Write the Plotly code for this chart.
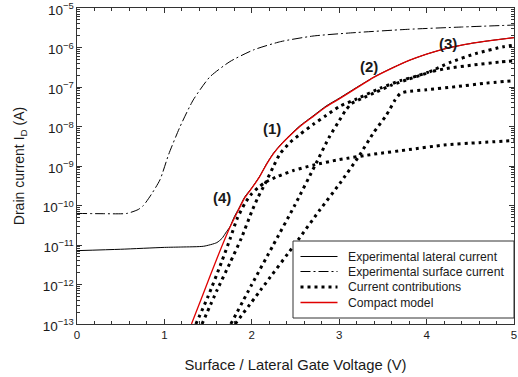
import math
import plotly.graph_objects as go

# ---- data (V, drain current in A) ----
lat_v = [0.0, 0.5, 1.0, 1.2, 1.45, 1.6, 1.66, 1.70, 1.75, 1.80, 1.85, 1.92, 2.0, 2.09, 2.17, 2.25,
         2.35, 2.45, 2.55, 2.7, 2.85, 3.0, 3.2, 3.4, 3.6, 3.8, 4.0, 4.25, 4.5, 4.75, 5.0]
lat_i = [7.2e-12, 7.8e-12, 8.7e-12, 8.9e-12, 9.3e-12, 1.15e-11, 1.48e-11, 2.0e-11, 2.9e-11, 5.2e-11,
         8.3e-11, 1.66e-10, 2.8e-10, 5.5e-10, 1.15e-9, 2.15e-9, 3.9e-9, 6.5e-9, 1.04e-8, 1.85e-8,
         3.3e-8, 5.2e-8, 9.8e-8, 1.8e-7, 3.0e-7, 4.7e-7, 6.8e-7, 9.8e-7, 1.26e-6, 1.52e-6, 1.78e-6]

surf_v = [0.0, 0.3, 0.57, 0.7, 0.76, 0.85, 0.95, 1.05, 1.18, 1.33, 1.52, 1.75, 2.02, 2.33, 2.7,
          3.13, 3.78, 4.4, 5.0]
surf_i = [6.3e-11, 6.2e-11, 6.3e-11, 7.9e-11, 1.0e-10, 1.9e-10, 4.5e-10, 2.0e-9, 1.0e-8, 4.7e-8,
          1.8e-7, 4.4e-7, 8.7e-7, 1.41e-6, 1.95e-6, 2.34e-6, 2.88e-6, 3.3e-6, 3.7e-6]

c4_v = [1.36, 1.5, 1.65, 1.75, 1.83, 1.92, 2.0, 2.07, 2.15, 2.3, 2.47, 2.7, 3.0, 3.4, 3.8, 4.2, 4.6, 5.0]
c4_i = [1.0e-13, 5.0e-13, 3.5e-12, 1.4e-11, 4.5e-11, 1.12e-10, 2.0e-10, 2.8e-10, 3.8e-10, 5.5e-10,
        7.6e-10, 1.05e-9, 1.45e-9, 2.0e-9, 2.6e-9, 3.4e-9, 3.9e-9, 4.4e-9]

c1_v = [1.43, 1.6, 1.75, 1.88, 2.0, 2.07, 2.15, 2.25, 2.32, 2.44, 2.55, 2.7, 2.85, 3.0, 3.2, 3.47,
        3.7, 3.89, 4.0, 4.23, 4.53, 4.84, 5.0]
c1_i = [1.0e-13, 7.0e-13, 3.5e-12, 1.48e-11, 7.1e-11, 1.6e-10, 3.5e-10, 1.0e-9, 2.0e-9, 4.0e-9,
        6.3e-9, 1.12e-8, 1.9e-8, 3.2e-8, 5.0e-8, 9.3e-8, 1.45e-7, 1.9e-7, 2.3e-7, 2.95e-7, 3.6e-7,
        4.3e-7, 4.6e-7]

cA_v = [1.76, 2.0, 2.24, 2.49, 2.72, 2.89, 3.0, 3.07, 3.14, 3.25, 3.43, 3.6, 3.8, 4.0, 4.27, 4.57,
        4.88, 5.0]
cA_i = [1.0e-13, 1.0e-12, 9.5e-12, 1.0e-10, 1.0e-9, 5.6e-9, 1.4e-8, 2.5e-8, 3.8e-8, 5.0e-8, 7.6e-8,
        1.12e-7, 1.6e-7, 2.24e-7, 4.2e-7, 7.1e-7, 1.05e-6, 1.15e-6]

cB_v = [1.81, 2.1, 2.53, 2.78, 3.01, 3.22, 3.39, 3.54, 3.64, 3.70, 3.77, 4.0, 4.34, 4.65, 5.0]
cB_i = [1.0e-13, 7.2e-13, 1.35e-11, 7.8e-11, 3.7e-10, 1.7e-9, 6.8e-9, 1.95e-8, 4.7e-8, 6.9e-8,
        7.6e-8, 8.5e-8, 1.02e-7, 1.23e-7, 1.45e-7]

model_v = [1.31, 1.45, 1.6, 1.75, 1.85, 1.92, 2.0, 2.09, 2.17, 2.25, 2.35, 2.45, 2.55, 2.7, 2.85,
           3.0, 3.2, 3.4, 3.6, 3.8, 4.0, 4.25, 4.5, 4.75, 5.0]
model_i = [1.0e-13, 6.3e-13, 4.5e-12, 2.8e-11, 7.9e-11, 1.58e-10, 2.75e-10, 5.4e-10, 1.12e-9,
           2.1e-9, 3.8e-9, 6.3e-9, 1.0e-8, 1.78e-8, 3.16e-8, 5.0e-8, 9.5e-8, 1.78e-7, 2.95e-7,
           4.7e-7, 6.8e-7, 9.8e-7, 1.26e-6, 1.51e-6, 1.78e-6]

labels = ["(1)", "(2)", "(3)", "(4)"]
label_v = [2.23, 3.34, 4.24, 1.66]
label_i = [8.9e-9, 3.4e-7, 1.26e-6, 1.6e-10]

legend_names = ["Experimental lateral current", "Experimental surface current",
                "Current contributions", "Compact model"]

FONT = "Liberation Sans, Arial, sans-serif"
INK = "#1a1a1a"
DOT = "3px,4px"
DASHDOT = "10px,3px,2px,3px"
styles = [dict(color="black", width=1, dash="solid"),
          dict(color="black", width=1, dash=DASHDOT),
          dict(color="black", width=3, dash=DOT),
          dict(color="#e00000", width=1.3, dash="solid")]

fig = go.Figure()

contribs = [(c4_v, c4_i), (c1_v, c1_i), (cA_v, cA_i), (cB_v, cB_i)]
for k, (vv, ii) in enumerate(contribs):
    fig.add_trace(go.Scatter(x=vv, y=ii, mode="lines", name=legend_names[2],
                             line=dict(styles[2], shape="spline", smoothing=0.6), showlegend=False))

fig.add_trace(go.Scatter(x=lat_v, y=lat_i, mode="lines", name=legend_names[0],
                         line=dict(styles[0], shape="spline", smoothing=0.6), showlegend=False))
fig.add_trace(go.Scatter(x=surf_v, y=surf_i, mode="lines", name=legend_names[1],
                         line=dict(styles[1], shape="spline", smoothing=0.6), showlegend=False))
fig.add_trace(go.Scatter(x=model_v, y=model_i, mode="lines", name=legend_names[3],
                         line=dict(styles[3], shape="spline", smoothing=0.6), showlegend=False))

for t, xv, yv in zip(labels, label_v, label_i):
    fig.add_annotation(x=xv, y=math.log10(yv), text="<b>%s</b>" % t, showarrow=False,
                       font=dict(family=FONT, size=15, color=INK))

# ---- legend box (drawn in paper coordinates of the plot area) ----
L, R, T, B = 77, 514, 8, 324
def px(x):
    return (x - L) / (R - L)
def py(y):
    return (B - y) / (B - T)

fig.add_shape(type="rect", xref="paper", yref="paper", x0=px(293), x1=px(514), y0=py(318), y1=py(241),
              fillcolor="white", line=dict(color="#333", width=1), layer="above")
entry_y = [256.5, 271.5, 287.0, 302.5]
for name, st, ey in zip(legend_names, styles, entry_y):
    fig.add_shape(type="line", xref="paper", yref="paper", x0=px(300.5), x1=px(337.5),
                  y0=py(ey), y1=py(ey), line=st, layer="above")
    fig.add_annotation(xref="paper", yref="paper", x=px(345.5), y=py(ey), text=name,
                       xanchor="left", yanchor="middle", showarrow=False,
                       font=dict(family=FONT, size=12.2, color=INK))

fig.update_layout(
    width=518, height=377,
    margin=dict(l=L, r=518 - R, t=T, b=377 - B, autoexpand=False),
    paper_bgcolor="white", plot_bgcolor="white",
    font=dict(family=FONT, size=11, color=INK),
    showlegend=False,
)
fig.update_xaxes(range=[0, 5], dtick=1, tick0=0, ticks="inside", ticklen=5, tickcolor="#333",
                 showline=True, linecolor="#333", linewidth=1, mirror="allticks",
                 showgrid=False, zeroline=False, ticklabeloverflow="allow",
                 minor=dict(dtick=0.2, ticks="inside", ticklen=3, tickcolor="#333", showgrid=False),
                 title=dict(text="Surface / Lateral Gate Voltage (V)", font=dict(size=14.8, family=FONT, color=INK), standoff=19),
                 tickfont=dict(size=11.5, family=FONT, color=INK))
fig.update_yaxes(type="log", range=[-13, -5], dtick=1, exponentformat="power", showexponent="all",
                 ticks="inside", ticklen=5, tickcolor="#333",
                 showline=True, linecolor="#333", linewidth=1, mirror="allticks",
                 showgrid=False, zeroline=False, ticklabeloverflow="allow", ticklabelshift=2,
                 minor=dict(dtick="D1", ticks="inside", ticklen=3, tickcolor="#333", showgrid=False),
                 title=dict(text="Drain current I<sub>D</sub> (A)", font=dict(size=14, family=FONT, color=INK), standoff=14),
                 tickfont=dict(size=10.8, family=FONT, color=INK))

fig.write_html("out.html", config={"displayModeBar": False},
               post_script="document.body.style.margin='0px';")
